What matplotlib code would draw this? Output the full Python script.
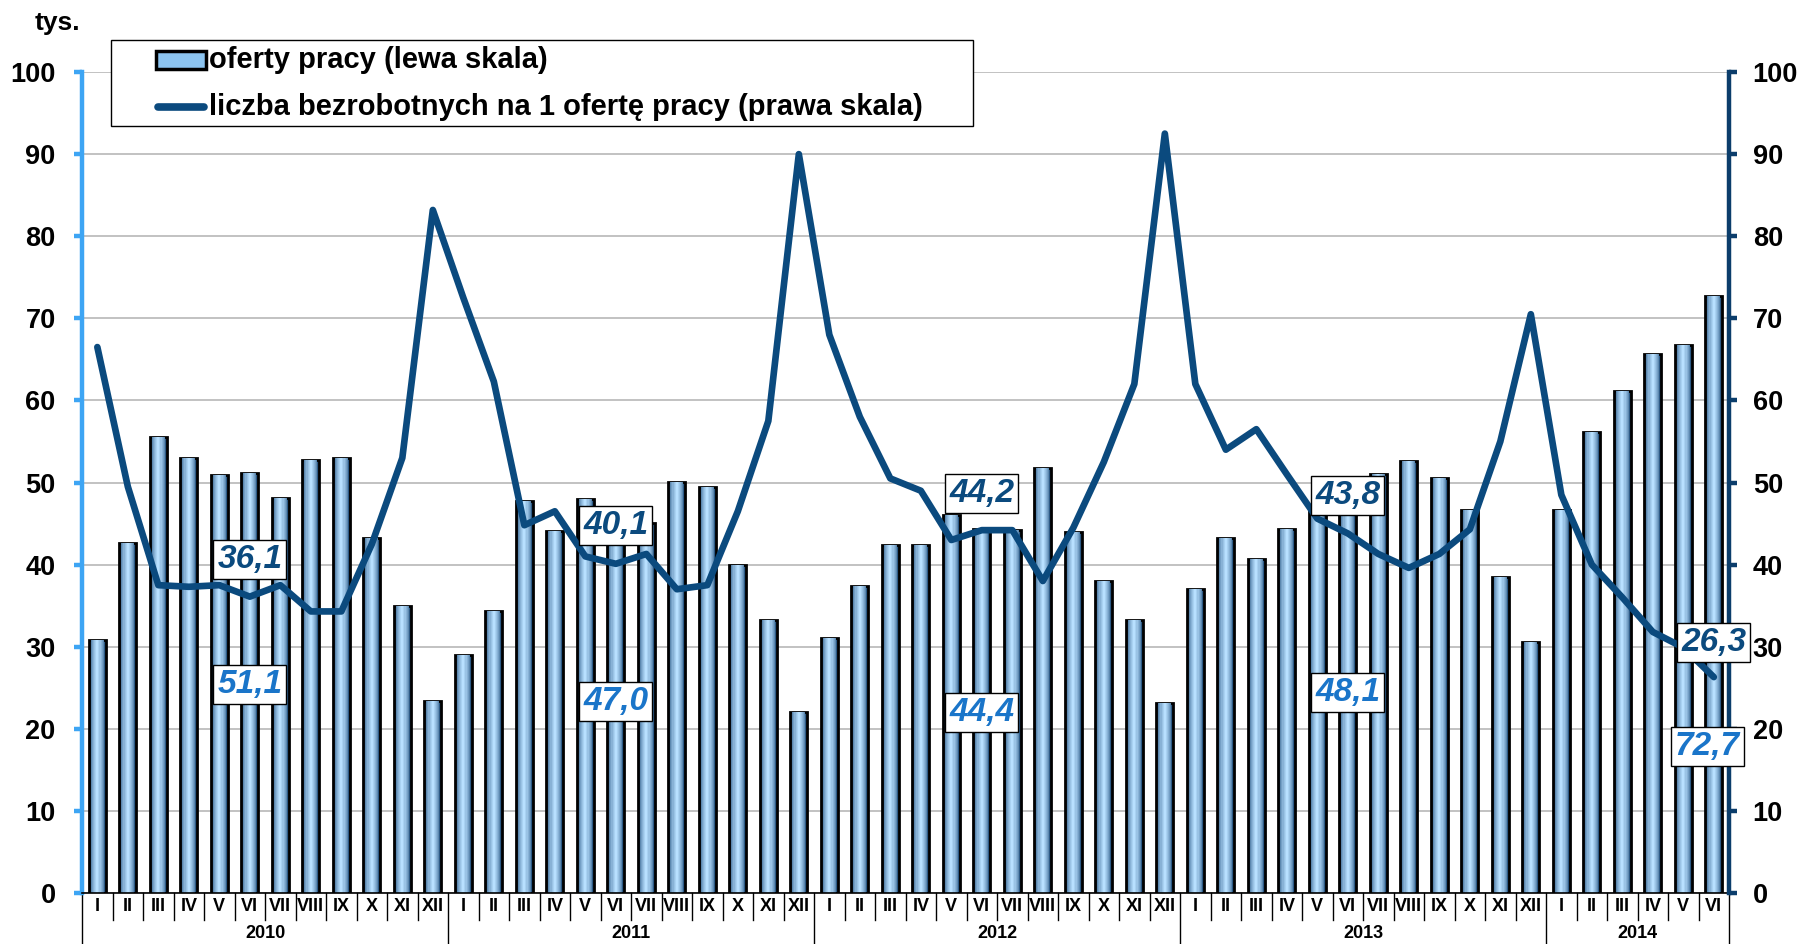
import numpy as np
import matplotlib
matplotlib.use("Agg")
import matplotlib.pyplot as plt
from matplotlib.patches import Rectangle
from matplotlib.lines import Line2D
from matplotlib.colors import to_rgb
import matplotlib.transforms as mtransforms

plt.rcParams['font.family'] = ['Liberation Sans', 'DejaVu Sans']

# dane
months = ['I', 'II', 'III', 'IV', 'V', 'VI', 'VII', 'VIII', 'IX', 'X', 'XI', 'XII']
years = ['2010', '2011', '2012', '2013', '2014']
month_labels = months * 4 + months[:6]

# oferty pracy (tys.) - lewa skala
offers = [30.8, 42.6, 55.6, 53.0, 50.9, 51.1, 48.1, 52.7, 53.0, 43.2, 35.0, 23.4,
          29.0, 34.4, 47.7, 44.1, 48.0, 47.0, 45.1, 50.1, 49.5, 40.0, 33.2, 22.0,
          31.1, 37.4, 42.4, 42.4, 46.0, 44.4, 44.2, 51.8, 44.0, 38.0, 33.2, 23.1,
          37.0, 43.3, 40.7, 44.3, 46.5, 48.1, 51.0, 52.6, 50.5, 46.7, 38.5, 30.6,
          46.7, 56.2, 61.1, 65.6, 66.8, 72.7]

# liczba bezrobotnych na 1 oferte pracy - prawa skala
ratio = [66.5, 49.5, 37.5, 37.3, 37.5, 36.1, 37.5, 34.3, 34.3, 42.5, 53.0, 83.2,
         72.5, 62.3, 44.8, 46.5, 41.0, 40.1, 41.3, 37.0, 37.5, 46.5, 57.5, 90.0,
         68.0, 58.0, 50.5, 49.0, 43.0, 44.2, 44.2, 38.0, 44.5, 52.5, 62.0, 92.5,
         62.0, 54.0, 56.5, 51.0, 45.6, 43.8, 41.3, 39.6, 41.3, 44.3, 55.0, 70.5,
         48.5, 40.0, 36.0, 31.8, 29.9, 26.3]

# etykiety danych (czerwiec kazdego roku)
label_idx = [5, 17, 29, 41, 53]
ratio_label_pos = [40.6, 44.8, 48.7, 48.4, 30.5]
offer_label_pos = [25.4, 23.3, 22.0, 24.4, 17.9]
ratio_label_dx = [0, 0, 0, 0, 0.0]
offer_label_dx = [0, 0, 0, 0, -0.2]

legend_labels = ['oferty pracy (lewa skala)', 'liczba bezrobotnych na 1 ofertę pracy (prawa skala)']

x = np.arange(len(offers))
n = len(offers)

W, H = 1800, 944
fig = plt.figure(figsize=(18, 9.44), dpi=100)
ax = fig.add_axes([0.0456, 0.054, 0.915, 0.8697])
ax2 = ax.twinx()

# slupki z cieniowaniem walca
dark = np.array(to_rgb('#2c5a86'))
light = np.array(to_rgb('#b8e0ff'))
bw = 0.56
ax.bar(x, offers, width=bw, color='#2c5a86', edgecolor='black', linewidth=2.0, zorder=3)
layers = 7
for k in range(1, layers):
    t = k / (layers - 1)
    c = dark + (light - dark) * (t ** 0.6)
    ax.bar(x, offers, width=bw * (1 - 0.8 * t) - 0.05, color=c, linewidth=0, zorder=3)

ax.set_xlim(-0.5, n - 0.5)
ax.set_ylim(0, 100)
ax.set_yticks(np.arange(0, 101, 10))
ax.yaxis.grid(True, color='#bdbdbd', linewidth=1.3, zorder=0)
ax.set_axisbelow(True)
ax.set_xticks([])

ax2.plot(x, ratio, color='#0b4a7e', linewidth=4.8, solid_capstyle='round', solid_joinstyle='round', zorder=4)
ax2.set_ylim(0, 100)
ax2.set_yticks(np.arange(0, 101, 10))

for a in (ax, ax2):
    for s in a.spines.values():
        s.set_visible(False)
ax.spines['left'].set_visible(True)
ax.spines['left'].set_color('#3da5f4')
ax.spines['left'].set_linewidth(3.2)
ax2.spines['right'].set_visible(True)
ax2.spines['right'].set_color('#0b3d6b')
ax2.spines['right'].set_linewidth(3.2)
ax.tick_params(axis='y', colors='#3da5f4', length=6, width=3.2, pad=13, labelsize=19.5, labelcolor='black')
ax2.tick_params(axis='y', colors='#0b3d6b', length=6, width=3.2, pad=11, labelsize=19.5, labelcolor='black')
for lab in ax.get_yticklabels() + ax2.get_yticklabels():
    lab.set_fontweight('bold')

# os X dwupoziomowa
trans = mtransforms.blended_transform_factory(ax.transData, ax.transAxes)
ax.plot([-0.5, n - 0.5], [0, 0], transform=trans, color='black', linewidth=1.2, clip_on=False, zorder=5)
for i, m in enumerate(month_labels):
    ax.text(i, -0.0165, m, transform=trans, ha='center', va='center', fontsize=13, fontweight='bold')
for i in range(n + 1):
    bound = i - 0.5
    if i % 12 == 0 or i == n:
        y_end = -0.063
    else:
        y_end = -0.033
    ax.plot([bound, bound], [0, y_end], transform=trans, color='black', linewidth=1.0, clip_on=False)
for j, yr in enumerate(years):
    start = j * 12 - 0.5
    end = min((j + 1) * 12, n) - 0.5
    ax.text((start + end) / 2, -0.049, yr, transform=trans, ha='center', va='center', fontsize=13, fontweight='bold')

# etykiety
for k, i in enumerate(label_idx):
    ax2.text(i + ratio_label_dx[k], ratio_label_pos[k], f"{ratio[i]:.1f}".replace('.', ','),
             ha='center', va='center', fontsize=24, fontweight='bold', style='italic',
             color='#0b4a7e', zorder=6,
             bbox=dict(boxstyle='square,pad=0.12', facecolor='white', edgecolor='black', linewidth=1.0))
    ax2.text(i + offer_label_dx[k], offer_label_pos[k], f"{offers[i]:.1f}".replace('.', ','),
             ha='center', va='center', fontsize=24, fontweight='bold', style='italic',
             color='#1a75c9', zorder=6,
             bbox=dict(boxstyle='square,pad=0.12', facecolor='white', edgecolor='black', linewidth=1.0))

fig.text(0.0317, 0.9756, 'tys.', ha='center', va='center', fontsize=19, fontweight='bold')


# legenda rysowana recznie (wspolrzedne w pikselach)
def fx(px):
    return px / W


def fy(py):
    return 1 - py / H


fig.patches.append(Rectangle((fx(111), fy(126)), fx(973) - fx(111), fy(40) - fy(126),
                             transform=fig.transFigure, facecolor='white', edgecolor='black',
                             linewidth=1.0, zorder=20))
fig.patches.append(Rectangle((fx(156), fy(69)), fx(206) - fx(156), fy(51) - fy(69),
                             transform=fig.transFigure, facecolor='#8cc4f0', edgecolor='black',
                             linewidth=2.5, zorder=21))
fig.lines.append(Line2D([fx(158), fx(204)], [fy(107), fy(107)], transform=fig.transFigure,
                        color='#0b4a7e', linewidth=5.5, solid_capstyle='round', zorder=21))
fig.text(fx(209), fy(60), legend_labels[0], ha='left', va='center', fontsize=21, fontweight='bold', zorder=22)
fig.text(fx(209), fy(107), legend_labels[1], ha='left', va='center', fontsize=21, fontweight='bold', zorder=22)

fig.savefig('out.png', dpi=100)
